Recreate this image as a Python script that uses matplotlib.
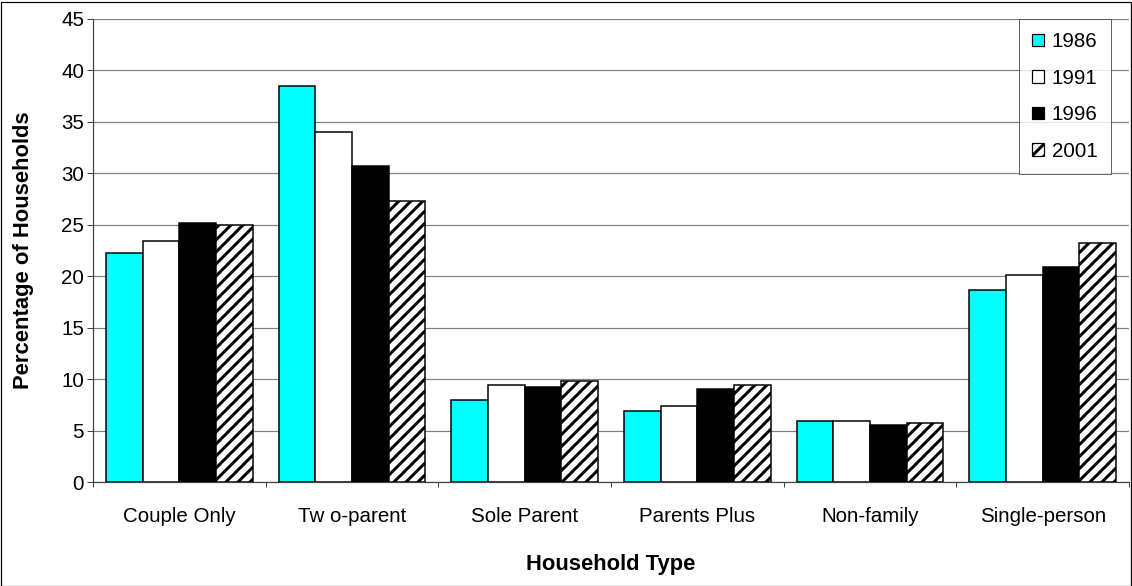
import matplotlib
matplotlib.use("Agg")
import matplotlib.pyplot as plt
import numpy as np
from matplotlib.patches import Rectangle

categories = ["Couple Only", "Tw o-parent", "Sole Parent", "Parents Plus", "Non-family", "Single-person"]
years = ["1986", "1991", "1996", "2001"]
v1986 = [22.3, 38.5, 8.0, 6.9, 5.9, 18.7]
v1991 = [23.4, 34.0, 9.4, 7.4, 5.9, 20.1]
v1996 = [25.2, 30.7, 9.2, 9.0, 5.5, 20.9]
v2001 = [25.0, 27.3, 9.8, 9.4, 5.7, 23.2]
yticks = [0, 5, 10, 15, 20, 25, 30, 35, 40, 45]

plt.rcParams['font.family'] = ['Liberation Sans', 'DejaVu Sans']
plt.rcParams['hatch.linewidth'] = 3.0
plt.rcParams['hatch.color'] = 'black'

DPI = 72
FS = 20.5
FSB = 22
fig = plt.figure(figsize=(1132 / DPI, 586 / DPI), dpi=DPI)
ax = fig.add_axes([93 / 1132, (586 - 482) / 586, (1129 - 93) / 1132, (482 - 19) / 586])

series = [v1986, v1991, v1996, v2001]
faces = ['#00FFFF', 'white', 'black', 'white']
hatches = [None, None, None, '//']
x = np.arange(len(categories))
w = 0.2125
for i, (vals, fc, h) in enumerate(zip(series, faces, hatches)):
    ax.bar(x + (i - 1.5) * w, vals, width=w, color=fc, edgecolor='black',
           linewidth=1.5, hatch=h, label=years[i], zorder=3)

ax.set_xlim(-0.5, len(categories) - 0.5)
ax.set_ylim(0, 45)
ax.set_yticks(yticks)
ax.set_yticklabels([str(t) for t in yticks], fontsize=FS)
ax.yaxis.grid(True, color='#808080', linewidth=1.2, zorder=0)
ax.set_axisbelow(True)

ax.set_xticks(np.arange(len(categories) + 1) - 0.5)
ax.set_xticklabels([])
ax.set_xticks(x, minor=True)
ax.set_xticklabels(categories, minor=True, fontsize=FS)
ax.tick_params(axis='x', which='minor', length=0, pad=25)
ax.tick_params(axis='x', which='major', length=5, width=1, color='#404040', direction='out')
ax.tick_params(axis='y', length=6, width=1, color='#404040', direction='out', pad=3)

for s in ['top', 'right']:
    ax.spines[s].set_visible(False)
ax.spines['left'].set_color('#404040')
ax.spines['bottom'].set_color('#404040')
ax.spines['left'].set_linewidth(1.2)
ax.spines['bottom'].set_linewidth(1.2)

ax.set_ylabel("Percentage of Households", fontsize=FSB, fontweight='bold', labelpad=27)
ax.set_xlabel("Household Type", fontsize=FSB, fontweight='bold', labelpad=28)

leg = ax.legend(loc='upper right', bbox_to_anchor=((1111 - 93) / (1129 - 93), 1.0),
                fontsize=FS, frameon=True, fancybox=False, handlelength=0.57,
                handleheight=0.57, handletextpad=0.38, labelspacing=0.85,
                borderpad=0.65, borderaxespad=0.0)
leg.get_frame().set_edgecolor('#404040')
leg.get_frame().set_linewidth(1.0)
for p in leg.get_patches():
    p.set_linewidth(1.2)

fig.patches.append(Rectangle((0.5 / 1132, 0.5 / 586), 1 - 2 / 1132, 1 - 2 / 586,
                             transform=fig.transFigure, fill=False,
                             edgecolor='black', linewidth=1.2))

fig.savefig("out.png", dpi=DPI)
